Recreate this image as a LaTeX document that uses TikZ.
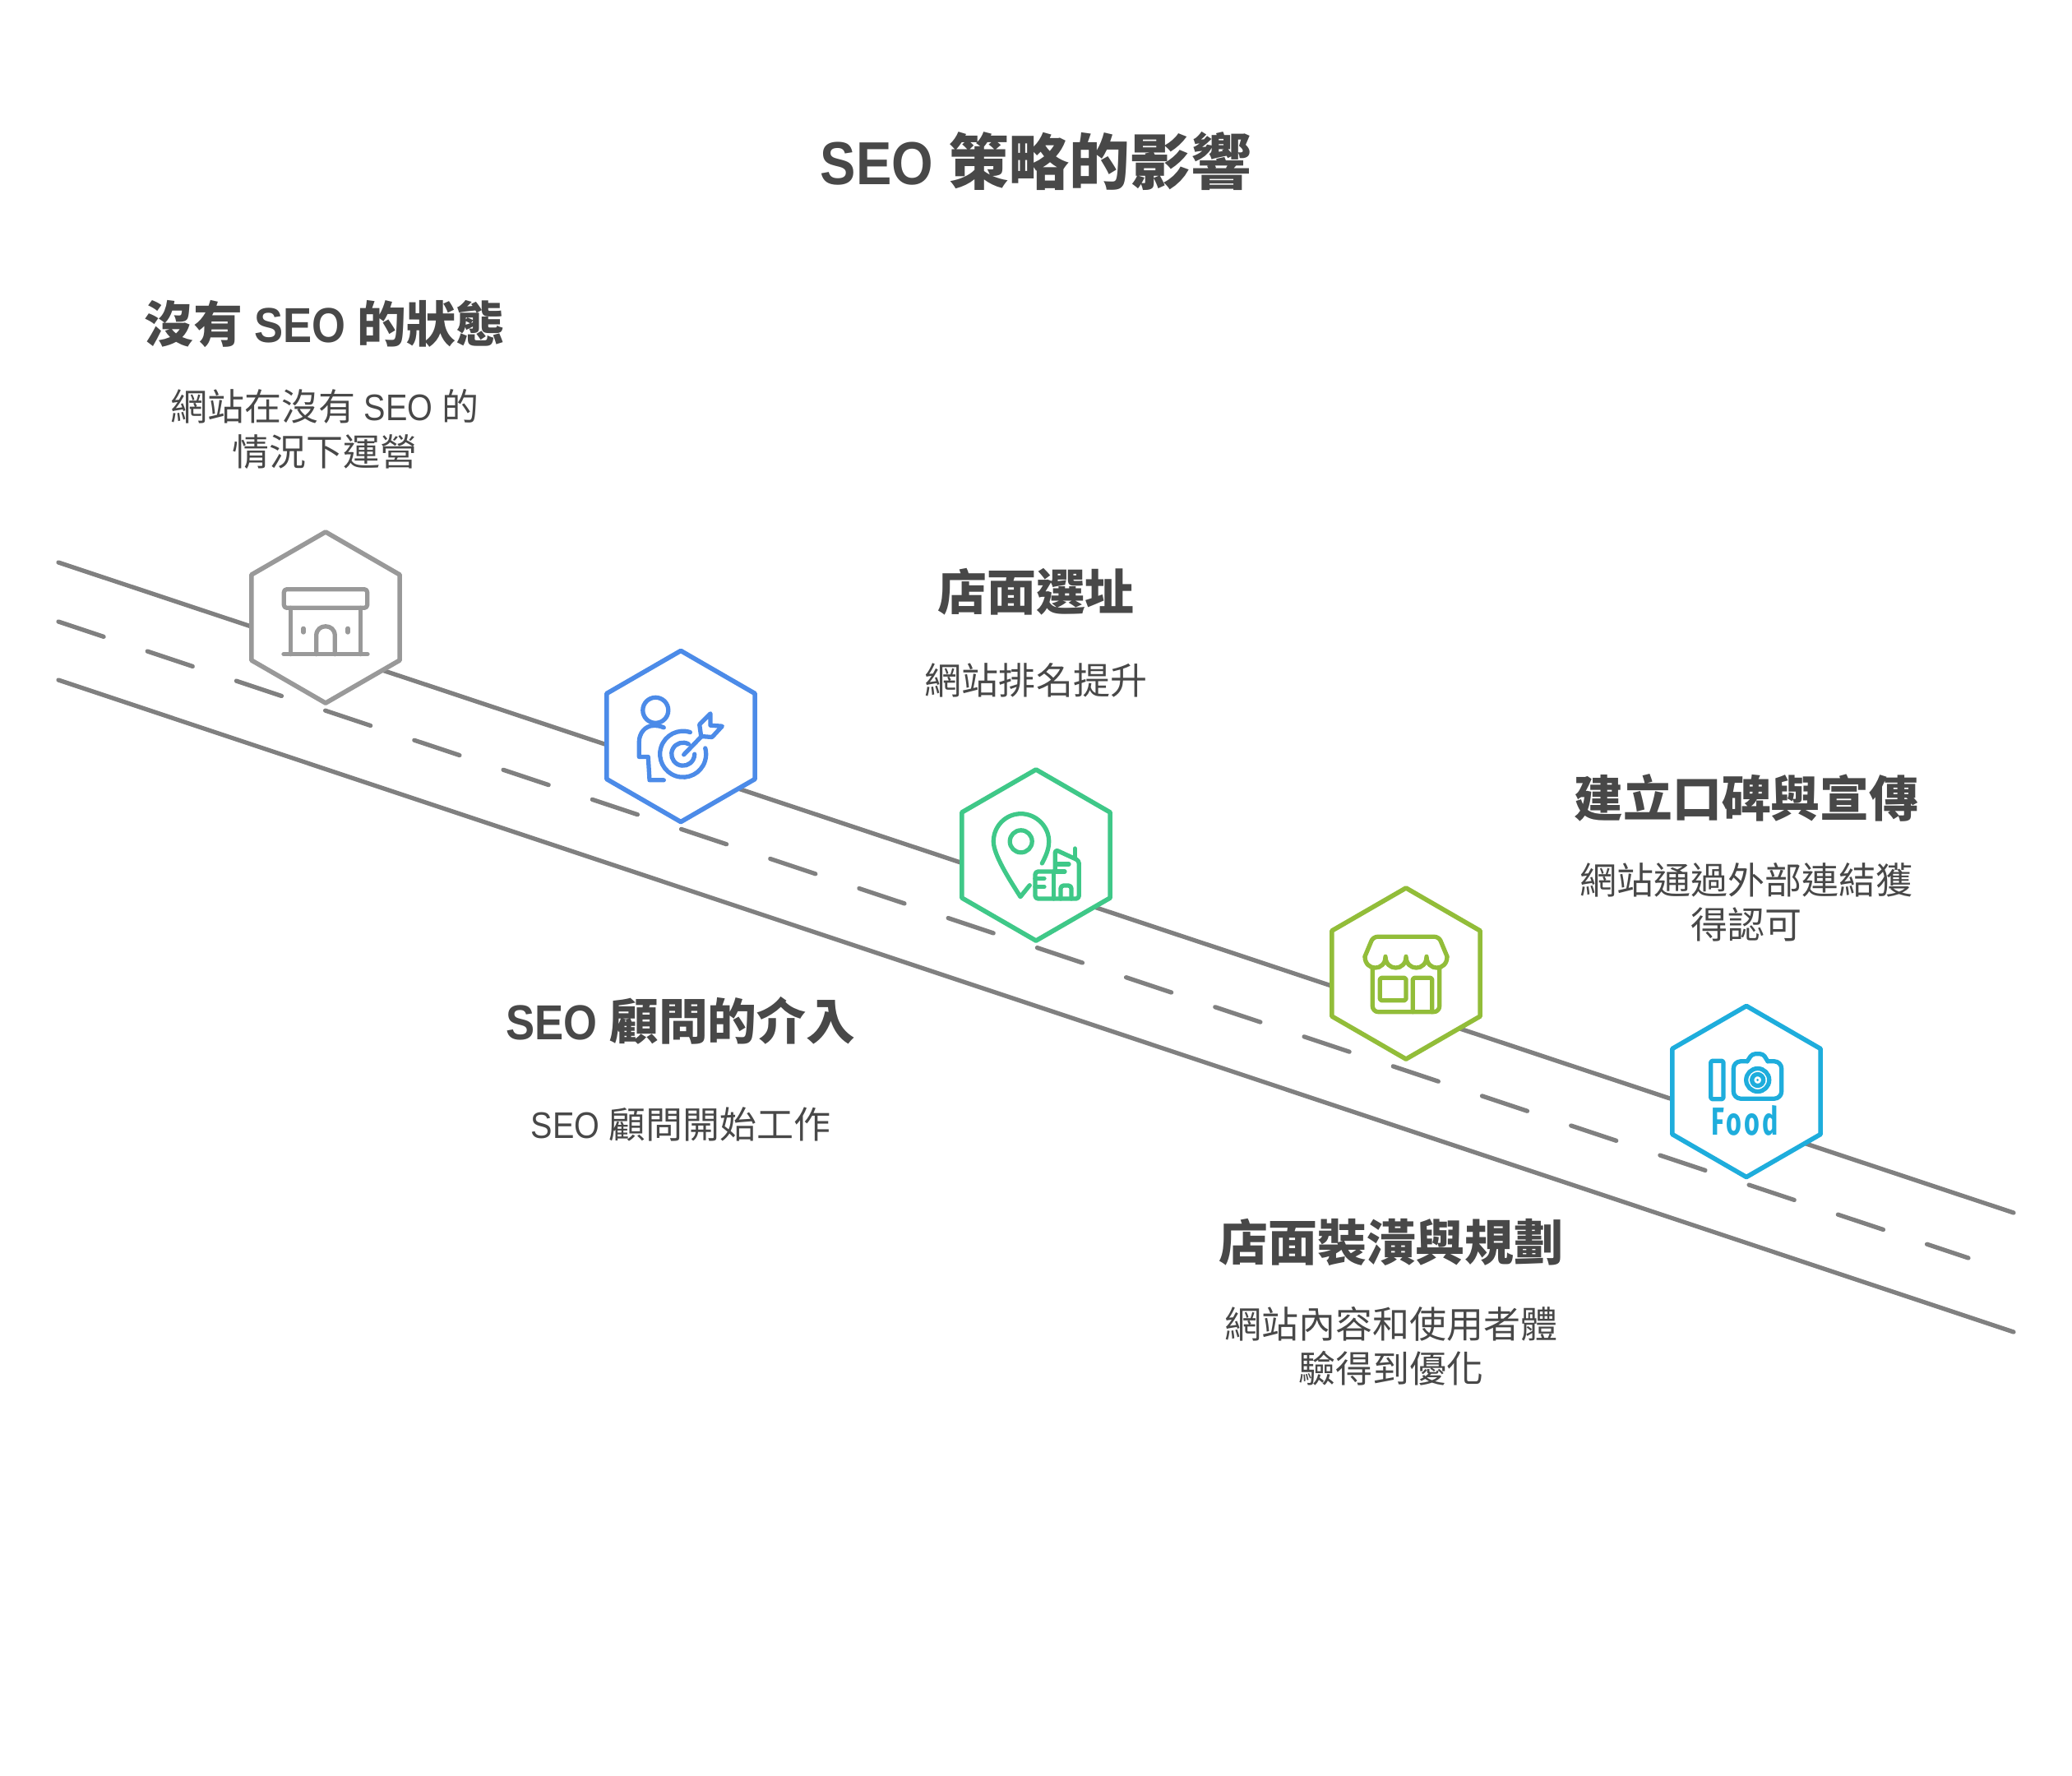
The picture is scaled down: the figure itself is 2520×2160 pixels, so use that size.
\documentclass[tikz,border=0pt]{standalone}
\usepackage{fontspec}
\usepackage{tikz}
\usetikzlibrary{shapes.geometric}
\setmainfont{Noto Sans CJK TC}
\newfontfamily\latinfont{Liberation Sans}[FakeStretch=0.88]
\newfontfamily\foodfont{Fira Sans}[LetterSpace=10]
\newcommand{\seo}{{\latinfont SEO }}
\definecolor{roadgray}{HTML}{808080}
\definecolor{textgray}{HTML}{484848}
\definecolor{hexgray}{HTML}{999999}
\definecolor{hexblue}{HTML}{4C8BE8}
\definecolor{hexgreen}{HTML}{3FC888}
\definecolor{hexlime}{HTML}{92BD39}
\definecolor{hexcyan}{HTML}{1EADDC}
\tikzset{
	road/.style={draw=roadgray,line width=1.5pt,line cap=round},
	roaddash/.style={road,dash pattern=on 0.58cm off 0.56cm},
	hexagon/.style={regular polygon,regular polygon sides=6,shape border rotate=30,minimum size=2.08cm,inner sep=0pt,outer sep=0pt,draw=#1,fill=white,line width=1.6pt,line join=round},
	icon/.style={draw=#1,line width=1.5pt,line cap=round,line join=round},
	maintitle/.style={font=\fontsize{21}{25}\selectfont\bfseries,text=textgray},
	heading/.style={font=\fontsize{17}{20}\selectfont\bfseries,text=textgray},
	body/.style={font=\fontsize{12.8}{15.4}\selectfont,text=textgray,align=center},
}
\begin{document}
\begin{tikzpicture}[x=0.01cm,y=-0.01cm]
	\useasboundingbox (0,0) rectangle (2520,2160);
	\coordinate (topstart) at (71,684);
	\coordinate (topend) at (2449,1475);
	\coordinate (midstart) at (71,756);
	\coordinate (midend) at (2394,1530);
	\coordinate (lowstart) at (71,827);
	\coordinate (lowend) at (2449,1620);
	\draw [road] (topstart) -- (topend);
	\draw [roaddash] (midstart) -- (midend);
	\draw [road] (lowstart) -- (lowend);
	\node [maintitle] (title) at (1260,196) {\seo 策略的影響};
	\node [hexagon=hexgray] (hexnone) at (396,751) {};
	\node [hexagon=hexblue] (hexcons) at (828,895.5) {};
	\node [hexagon=hexgreen] (hexsite) at (1260,1040) {};
	\node [hexagon=hexlime] (hexdeco) at (1710,1184) {};
	\node [hexagon=hexcyan] (hexprom) at (2124,1327.5) {};
	\node [heading] (headnone) at (395,394) {沒有 \seo 的狀態};
	\node [body] (bodynone) at (395,522) {網站在沒有 \seo 的\\情況下運營};
	\node [heading] (headsite) at (1260,720) {店面選址};
	\node [body] (bodysite) at (1260,827) {網站排名提升};
	\node [heading] (headcons) at (828,1241) {\seo 顧問的介入};
	\node [body] (bodycons) at (828,1367) {\seo 顧問開始工作};
	\node [heading] (headdeco) at (1692,1511) {店面裝潢與規劃};
	\node [body] (bodydeco) at (1692,1637) {網站內容和使用者體\\驗得到優化};
	\node [heading] (headprom) at (2124,970) {建立口碑與宣傳};
	\node [body] (bodyprom) at (2124,1097) {網站通過外部連結獲\\得認可};
	\begin{scope}[shift={(396,751)},icon=hexgray]
		\draw [rounded corners=1pt] (-50.7,-34.3) rectangle (50.7,-11.7);
		\draw (-42.7,-11.7) -- (-42.7,44.7);
		\draw (42.7,-11.7) -- (42.7,44.7);
		\draw (-51,44.7) -- (51,44.7);
		\draw (-11.3,44.7) -- (-11.3,22) .. controls (-11.3,7) and (11.3,7) .. (11.3,22) -- (11.3,44.7);
		\draw (-27,13.3) -- (-27,18);
		\draw (27,13.3) -- (27,18);
	\end{scope}
	\begin{scope}[shift={(828,895.5)},icon=hexblue]
		\draw (-30.7,-31.7) circle [radius=0.155cm];
		\draw (-20.7,-10.7) .. controls (-26,-13) and (-30,-13) .. (-33,-13) .. controls (-44,-13) and (-50.7,-3) .. (-50.7,6.7) -- (-50.7,25) -- (-39.7,25) -- (-38,53.3) -- (-20.7,53.3);
		\draw (2.7,21.7) ++(72:0.28cm) arc [start angle=72,end angle=375,radius=0.28cm];
		\draw (2.7,21.7) ++(61:0.14cm) arc [start angle=61,end angle=360,radius=0.14cm];
		\draw (3.7,22.3) -- (25.3,0);
		\draw (22.7,-14.3) -- (36,-27.7) -- (36,-13.3) -- (50.3,-12.3) -- (38,1) -- (24.7,0) -- cycle;
	\end{scope}
	\begin{scope}[shift={(1260,1040)},icon=hexgreen]
		\draw (7.3,10) .. controls (12,1) and (15.7,-7) .. (15.7,-16.7) .. controls (15.7,-35) and (0,-50.3) .. (-18.3,-50.3) .. controls (-37,-50.3) and (-51.7,-35) .. (-51.7,-16.7) .. controls (-51.7,0) and (-32,30) .. (-19,50.7) -- (-7.7,36.7);
		\draw (-18.3,-16.7) circle [radius=0.135cm];
		\draw [rounded corners=1pt] (23.3,20) -- (-1,20) -- (-1,53) -- (52.3,53) -- (52.3,6.7) -- (23.3,-6.7) -- (23.3,20);
		\draw (47.3,-8) -- (47.3,3);
		\draw (26.7,11) -- (40,11);
		\draw (23.3,20) -- (35,20);
		\draw (-1,28.3) -- (10,28.3);
		\draw (-1,38.3) -- (10,38.3);
		\draw (21.7,20) -- (21.7,53);
		\draw [rounded corners=1pt] (30,53) -- (30,37) -- (43,37) -- (43,53);
	\end{scope}
	\begin{scope}[shift={(1710,1184)},icon=hexlime]
		\draw [rounded corners=1.5pt] (-50,-20.7) -- (-40,-44.7) -- (40,-44.7) -- (50,-20.7);
		\draw (-50,-20.7) .. controls (-50,-2.4) and (-25,-2.4) .. (-25,-20.7) .. controls (-25,-2.4) and (0,-2.4) .. (0,-20.7) .. controls (0,-2.4) and (25,-2.4) .. (25,-20.7) .. controls (25,-2.4) and (50,-2.4) .. (50,-20.7);
		\draw [rounded corners=2pt] (-40.7,-7) -- (-40.7,46.7) -- (40.7,46.7) -- (40.7,-7);
		\draw [rounded corners=0.5pt] (-31.7,5.3) rectangle (0,32.7);
		\draw [rounded corners=0.5pt] (8.3,46.7) -- (8.3,5.3) -- (31.7,5.3) -- (31.7,46.7);
	\end{scope}
	\begin{scope}[shift={(2124,1327.5)},icon=hexcyan]
		\draw [rounded corners=0.5pt] (-43.3,-37.3) rectangle (-28,9.3);
		\draw [rounded corners=2.5pt] (1,-36.7) -- (-15.7,-36.7) -- (-15.7,8.7) -- (42.7,8.7) -- (42.7,-36.7) -- (26,-36.7);
		\draw [rounded corners=1pt] (1,-36.7) -- (7,-45.7) -- (20.3,-45.7) -- (26,-36.7);
		\draw (13.7,-14) circle [radius=0.14cm];
		\draw (13.7,-14) circle [radius=0.07cm];
		\fill [hexcyan] (13.7,-14) circle [radius=0.015cm];
		\node [text=hexcyan,font=\fontsize{13.5}{14}\foodfont\bfseries,xscale=0.68,inner sep=0pt] (food) at (-2,35) {Food};
	\end{scope}
\end{tikzpicture}
\end{document}
